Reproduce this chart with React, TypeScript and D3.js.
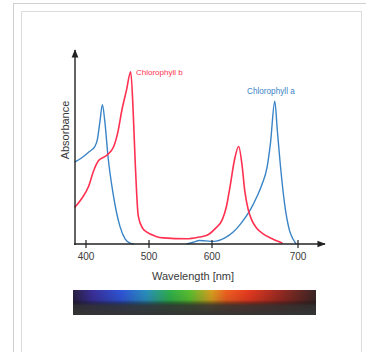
import { useEffect, useRef } from 'react';
import * as d3 from 'd3';

// wavelength [nm], absorbance (normalised to chlorophyll b peak)
const chlA1: [number, number][] = [
  [382, 0.47], [395, 0.5], [405, 0.53], [414, 0.56], [418, 0.6], [422, 0.7], [426, 0.8],
  [430, 0.7], [435, 0.5], [443, 0.29], [454, 0.1], [462, 0.03], [470, 0.005], [476, 0],
];
const chlA2: [number, number][] = [
  [560, 0], [570, 0.01], [580, 0.02], [590, 0.018], [602, 0.015], [615, 0.035], [625, 0.07],
  [634, 0.12], [645, 0.2], [652, 0.27], [658, 0.34], [664, 0.44], [668, 0.58], [673, 0.82],
  [676, 0.65], [679, 0.48], [685, 0.21], [690, 0.08], [694, 0.03], [698, 0],
];
const chlB: [number, number][] = [
  [382, 0.21], [393, 0.26], [404, 0.33], [412, 0.42], [420, 0.48], [433, 0.51], [444, 0.56],
  [451, 0.65], [457, 0.77], [464, 0.88], [471, 0.99], [475, 0.75], [478, 0.48], [483, 0.16],
  [490, 0.09], [496, 0.07], [510, 0.045], [523, 0.035], [560, 0.03], [580, 0.04], [592, 0.05],
  [604, 0.09], [612, 0.14], [617, 0.22], [621, 0.33], [626, 0.48], [631, 0.56], [635, 0.45],
  [638, 0.31], [642, 0.2], [646, 0.14], [652, 0.09], [659, 0.06], [670, 0.03], [682, 0.005],
];
const tickValues = [400, 500, 600, 700];
const spectrumStops = [
  ['0%', '#2a2140'], ['8%', '#3a2f9a'], ['20%', '#2f55d8'], ['30%', '#2a90c0'],
  ['40%', '#2fb04a'], ['48%', '#5ac030'], ['57%', '#d8a020'], ['63%', '#f06020'],
  ['72%', '#e83a20'], ['85%', '#9a2a22'], ['100%', '#3a2626'],
];

export default function App() {
  const svgRef = useRef<SVGSVGElement>(null);

  useEffect(() => {
    if (!svgRef.current) return;
    const svg = d3.select(svgRef.current);
    svg.selectAll('*').remove();

    // frame
    svg.append('rect').attr('x', 13.5).attr('y', 3.5).attr('width', 360).attr('height', 360)
      .attr('fill', 'none').attr('stroke', '#d0d0d0');
    svg.append('rect').attr('x', 21.5).attr('y', 11.5).attr('width', 340).attr('height', 350)
      .attr('fill', '#fff').attr('stroke', '#dcdcdc');

    const x = d3.scaleLinear().domain(tickValues).range([86, 149, 212, 298]);
    const y = d3.scaleLinear().domain([0, 1]).range([244, 70]);
    const x0 = 75;
    const y0 = y(0);

    const defs = svg.append('defs');
    defs.append('marker').attr('id', 'arr').attr('viewBox', '0 0 10 10')
      .attr('refX', 9).attr('refY', 5).attr('markerWidth', 6).attr('markerHeight', 6)
      .attr('orient', 'auto')
      .append('path').attr('d', 'M0,1 L10,5 L0,9 Z').attr('fill', '#222');

    const grad = defs.append('linearGradient').attr('id', 'spec');
    spectrumStops.forEach(([o, c]) => grad.append('stop').attr('offset', o).attr('stop-color', c));
    const shade = defs.append('linearGradient').attr('id', 'shade')
      .attr('x1', 0).attr('y1', 0).attr('x2', 0).attr('y2', 1);
    shade.append('stop').attr('offset', '0%').attr('stop-color', '#000').attr('stop-opacity', 0);
    shade.append('stop').attr('offset', '40%').attr('stop-color', '#000').attr('stop-opacity', 0.1);
    shade.append('stop').attr('offset', '62%').attr('stop-color', '#2e2e2e').attr('stop-opacity', 0.85);
    shade.append('stop').attr('offset', '100%').attr('stop-color', '#353535').attr('stop-opacity', 1);

    const line = d3.line<[number, number]>()
      .x(d => x(d[0])).y(d => y(d[1])).curve(d3.curveMonotoneX);

    const blue = '#3a84c6';
    const red = '#ff3050';
    svg.append('path').datum(chlA1).attr('d', line).attr('fill', 'none')
      .attr('stroke', blue).attr('stroke-width', 1.4);
    svg.append('path').datum(chlA2).attr('d', line).attr('fill', 'none')
      .attr('stroke', blue).attr('stroke-width', 1.4);
    svg.append('path').datum(chlB).attr('d', line).attr('fill', 'none')
      .attr('stroke', red).attr('stroke-width', 1.6);

    // axes
    svg.append('line').attr('x1', x0).attr('y1', y0 + 1).attr('x2', x0).attr('y2', 50)
      .attr('stroke', '#222').attr('stroke-width', 1.4).attr('marker-end', 'url(#arr)');
    svg.append('line').attr('x1', x0 - 1).attr('y1', y0).attr('x2', 325).attr('y2', y0)
      .attr('stroke', '#222').attr('stroke-width', 1.4).attr('marker-end', 'url(#arr)');

    tickValues.forEach(t => {
      svg.append('line').attr('x1', x(t)).attr('x2', x(t)).attr('y1', y0 - 4).attr('y2', y0 + 4)
        .attr('stroke', '#222').attr('stroke-width', 1.2);
      svg.append('text').attr('x', x(t)).attr('y', y0 + 16).attr('text-anchor', 'middle')
        .attr('font-size', 10).attr('fill', '#3a3a3a').text(t);
    });

    svg.append('text').attr('x', 193).attr('y', 280).attr('text-anchor', 'middle')
      .attr('font-size', 11).attr('fill', '#3a3a3a').text('Wavelength [nm]');
    svg.append('text').attr('transform', 'translate(69,130) rotate(-90)')
      .attr('text-anchor', 'middle').attr('font-size', 11).attr('fill', '#3a3a3a').text('Absorbance');

    svg.append('text').attr('x', 136).attr('y', 75).attr('font-size', 8)
      .attr('fill', red).text('Chlorophyll b');
    svg.append('text').attr('x', 247).attr('y', 94).attr('font-size', 8.2)
      .attr('fill', blue).text('Chlorophyll a');

    // spectrum strip
    svg.append('rect').attr('x', 73).attr('y', 290).attr('width', 243).attr('height', 25)
      .attr('fill', 'url(#spec)');
    svg.append('rect').attr('x', 73).attr('y', 290).attr('width', 243).attr('height', 25)
      .attr('fill', 'url(#shade)');
  }, []);

  return (
    <svg ref={svgRef} width={366} height={352}
      style={{ position: 'absolute', left: 0, top: 0, fontFamily: 'Liberation Sans, Arial, sans-serif' }} />
  );
}
